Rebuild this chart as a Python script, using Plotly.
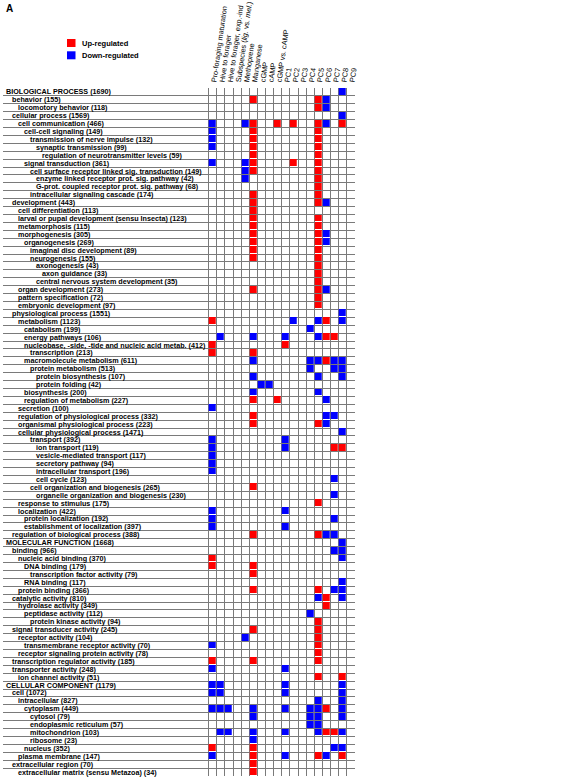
import plotly.graph_objects as go

# ---------------- data ----------------
columns = ["Pro-foraging maturation", "Hive to forager", "Hive to forager, exp.-ind",
           "Subspecies (<i>lig.</i> vs. <i>mel.</i>)", "Methoprene", "Manganese",
           "cGMP", "cAMP", "cGMP vs. cAMP",
           "PC1", "PC2", "PC3", "PC4", "PC5", "PC6", "PC7", "PC8", "PC9"]

terms = [
    "BIOLOGICAL PROCESS (1690)", "behavior (155)", "locomotory behavior (118)",
    "cellular process (1569)", "cell communication (466)", "cell-cell signaling (149)",
    "transmission of nerve impulse (132)", "synaptic transmission (99)",
    "regulation of neurotransmitter levels (59)", "signal transduction (361)",
    "cell surface receptor linked sig. transduction (149)",
    "enzyme linked receptor prot. sig. pathway (42)",
    "G-prot. coupled receptor prot. sig. pathway (68)",
    "intracellular signaling cascade (174)", "development (443)",
    "cell differentiation (113)", "larval or pupal development (sensu Insecta) (123)",
    "metamorphosis (115)", "morphogenesis (305)", "organogenesis (269)",
    "imaginal disc development (89)", "neurogenesis (155)", "axonogenesis (43)",
    "axon guidance (33)", "central nervous system development (35)",
    "organ development (273)", "pattern specification (72)", "embryonic development (97)",
    "physiological process (1551)", "metabolism (1123)", "catabolism (199)",
    "energy pathways (106)", "nucleobase, -side, -tide and nucleic acid metab. (412)",
    "transcription (213)", "macromolecule metabolism (611)", "protein metabolism (513)",
    "protein biosynthesis (107)", "protein folding (42)", "biosynthesis (200)",
    "regulation of metabolism (227)", "secretion (100)",
    "regulation of physiological process (332)", "organismal physiological process (223)",
    "cellular physiological process (1471)", "transport (392)", "ion transport (119)",
    "vesicle-mediated transport (117)", "secretory pathway (94)",
    "intracellular transport (196)", "cell cycle (123)",
    "cell organization and biogenesis (265)", "organelle organization and biogenesis (230)",
    "response to stimulus (175)", "localization (422)", "protein localization (192)",
    "establishment of localization (397)", "regulation of biological process (388)",
    "MOLECULAR FUNCTION (1668)", "binding (966)", "nucleic acid binding (370)",
    "DNA binding (179)", "transcription factor activity (79)", "RNA binding (117)",
    "protein binding (366)", "catalytic activity (810)", "hydrolase activity (349)",
    "peptidase activity (112)", "protein kinase activity (94)",
    "signal transducer activity (245)", "receptor activity (104)",
    "transmembrane receptor activity (70)", "receptor signaling protein activity (78)",
    "transcription regulator activity (185)", "transporter activity (248)",
    "ion channel activity (51)", "CELLULAR COMPONENT (1179)", "cell (1072)",
    "intracellular (827)", "cytoplasm (449)", "cytosol (79)",
    "endoplasmic reticulum (57)", "mitochondrion (103)", "ribosome (23)",
    "nucleus (352)", "plasma membrane (147)", "extracellular region (70)",
    "extracellular matrix (sensu Metazoa) (34)",
]

levels = [0, 1, 2, 1, 2, 3, 4, 5, 6, 3, 4, 5, 5, 4, 1, 2, 2, 2, 2, 3, 4, 4, 5, 6, 5, 2, 2, 2,
          1, 2, 3, 3, 3, 4, 3, 4, 5, 5, 3, 3, 2, 2, 2, 2, 4, 5, 5, 5, 5, 5, 4, 5, 2, 2, 3, 3, 1,
          0, 1, 2, 3, 4, 3, 2, 1, 2, 3, 4, 1, 2, 3, 2, 1, 1, 2,
          0, 1, 2, 3, 4, 4, 4, 4, 3, 2, 1, 2]

# column indices of up-regulated (red) and down-regulated (blue) cells per term
up_cols = [
    [], [5, 13], [13], [], [5, 8, 10, 13, 16], [5, 13], [5, 13], [5, 13], [5, 13],
    [5, 10, 13], [5, 13], [13], [13], [5, 13], [5, 13], [5], [5, 13], [5, 13], [5, 13],
    [5, 13], [5, 13], [5, 13], [13], [13], [13], [5, 13], [13], [13],
    [], [0, 14], [], [14, 15], [0, 9], [0, 5], [14], [], [], [], [], [5, 8], [],
    [5], [5, 13], [], [], [15, 16], [], [], [], [], [5], [], [13], [], [], [],
    [5, 13],
    [], [], [0], [0, 5], [5], [], [5, 13], [14], [14], [], [13], [5, 13], [13], [13],
    [13], [0, 5, 13], [], [13, 16],
    [], [], [], [14], [], [], [14, 15], [], [0, 5], [5, 13, 16], [5], [5],
]
down_cols = [
    [16], [14], [14], [16], [0, 4, 14], [0], [0], [0], [], [0, 4], [4], [4], [], [],
    [14], [], [], [], [14], [14], [], [], [], [], [], [14], [], [],
    [16], [10, 13, 16], [12], [1, 5, 9, 13], [], [], [5, 12, 13, 15, 16], [12, 15, 16],
    [5, 13, 16], [6, 7], [5, 13], [14], [0], [14, 15], [14], [16], [0, 9], [0, 9],
    [0], [0], [0], [15], [], [15], [], [0, 9], [0, 15], [0, 9], [14, 15],
    [16], [15, 16], [16], [], [], [16], [15, 16], [13, 16], [], [12], [], [], [4],
    [0], [], [], [0, 9], [],
    [0, 1, 9, 16], [0, 1, 9, 16], [13, 16], [0, 1, 2, 5, 9, 12, 13, 16],
    [5, 12, 13, 16], [12, 13], [1, 2, 5, 9, 13, 16], [5], [15, 16], [0, 9, 14], [], [],
]

legend_labels = ["Up-regulated", "Down-regulated"]
UP, DOWN = "#ff0000", "#0000ff"

# ---------------- build matrix ----------------
n_rows, n_cols = len(terms), len(columns)
z = [[0] * n_cols for _ in range(n_rows)]
for r in range(n_rows):
    for c in up_cols[r]:
        z[r][c] = 1
    for c in down_cols[r]:
        z[r][c] = -1

# ---------------- layout geometry ----------------
W, H = 577, 782
ML, MR, MT, MB = 3, 222, 88, 6
grid_left_px = 208.7
plot_w = W - ML - MR
plot_h = H - MT - MB
px_per_col = (W - MR - grid_left_px) / n_cols
x_right = n_cols - 0.5
x_left = x_right - plot_w / px_per_col

FONT = "Liberation Sans, Arial, sans-serif"
LINE = "#7a7a7a"

fig = go.Figure()
fig.add_trace(go.Heatmap(
    z=z, x=list(range(n_cols)), y=list(range(n_rows)),
    zmin=-1.5, zmax=1.5,
    colorscale=[[0, DOWN], [1 / 3, DOWN], [1 / 3, "rgba(255,255,255,0)"],
                [2 / 3, "rgba(255,255,255,0)"], [2 / 3, UP], [1, UP]],
    showscale=False, xgap=1, ygap=1, hoverinfo="skip",
))

# row labels
annotations = []
for r, (t, lv) in enumerate(zip(terms, levels)):
    annotations.append(dict(
        text=t, xref="paper", yref="y", x=0, y=r, xanchor="left", yanchor="middle",
        xshift=2 + 6 * lv, yshift=0, showarrow=False, borderpad=0,
        font=dict(family=FONT, size=7.2, color="black", weight="bold"),
    ))
annotations.append(dict(
    text="Gene Ontology Term", xref="paper", yref="y", x=0, y=-1, xanchor="left",
    yanchor="middle", xshift=2, showarrow=False, borderpad=0,
    font=dict(family=FONT, size=7.2, color="black", weight="bold"),
))


def px_to_paper(xp, yp):
    return (xp - ML) / plot_w, (H - MB - yp) / plot_h


ax, ay = px_to_paper(4, 9)
annotations.append(dict(text="A", xref="paper", yref="paper", x=ax, y=ay,
                        xanchor="left", yanchor="middle", showarrow=False,
                        font=dict(family=FONT, size=10, color="black", weight="bold")))

shapes = []
for i, (lab, col) in enumerate(zip(legend_labels, [UP, DOWN])):
    yc = 43 + 12.3 * i
    x0, y0 = px_to_paper(67, yc - 4)
    x1, y1 = px_to_paper(75.5, yc + 4)
    shapes.append(dict(type="rect", xref="paper", yref="paper", x0=x0, x1=x1, y0=y1, y1=y0,
                       fillcolor=col, line=dict(color=col, width=0)))
    tx, ty = px_to_paper(80, yc)
    annotations.append(dict(text=lab, xref="paper", yref="paper", x=tx, y=ty,
                            xanchor="left", yanchor="middle", showarrow=False,
                            font=dict(family=FONT, size=7.5, color="black", weight="bold")))

fig.update_layout(
    width=W, height=H,
    margin=dict(l=ML, r=MR, t=MT, b=MB, pad=0, autoexpand=False),
    paper_bgcolor="white", plot_bgcolor="white",
    showlegend=False,
    annotations=annotations, shapes=shapes,
    xaxis=dict(
        range=[x_left, x_right], side="top", automargin=False,
        tickmode="array", tickvals=list(range(n_cols)), ticktext=columns,
        tickangle=-82, ticks="", showgrid=False, zeroline=False, showline=False,
        tickfont=dict(family=FONT, size=7.3, color="black"),
        minor=dict(tickmode="array", tickvals=[k - 0.5 for k in range(n_cols + 1)],
                   showgrid=True, gridcolor=LINE, gridwidth=1, ticks=""),
        fixedrange=True,
    ),
    yaxis=dict(
        range=[n_rows - 0.5, -0.5], showticklabels=False, ticks="", showgrid=False,
        zeroline=False, showline=False, automargin=False,
        minor=dict(tickmode="array", tickvals=[k - 0.5 for k in range(n_rows + 1)],
                   showgrid=True, gridcolor=LINE, gridwidth=1, ticks=""),
        fixedrange=True,
    ),
)

fig.write_html(
    "out.html",
    config={"displayModeBar": False, "staticPlot": True},
    post_script="document.body.style.margin='0px';document.body.style.overflow='hidden';",
)
